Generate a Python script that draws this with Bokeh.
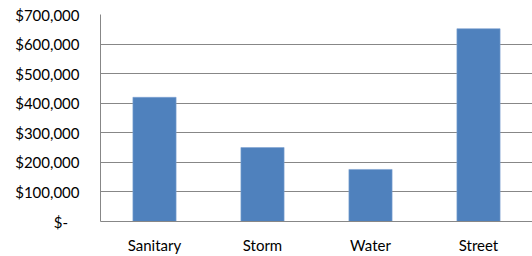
from bokeh.plotting import figure
from bokeh.models import ColumnDataSource, CustomJSTickFormatter, FixedTicker, Range1d
from bokeh.embed import file_html
from bokeh.resources import INLINE

categories = ["Sanitary", "Storm", "Water", "Street"]
values = [420000, 250000, 176000, 652000]
y_ticks = [0, 100000, 200000, 300000, 400000, 500000, 600000, 700000]

FONT = "Lato"
GRID = "#878787"

src = ColumnDataSource(dict(cat=categories, val=values))

p = figure(x_range=categories, y_range=Range1d(0, 700000),
           width=532, height=256, output_backend="svg", toolbar_location=None,
           min_border_left=100, min_border_right=0, min_border_top=14, min_border_bottom=32)

p.vbar(x="cat", top="val", width=0.4, source=src,
       fill_color="#4F81BD", line_color="#7FA3D1", line_width=0.6)

p.outline_line_color = None
p.background_fill_color = "white"
p.border_fill_color = "white"

p.xgrid.grid_line_color = None
p.ygrid.grid_line_color = GRID
p.ygrid.grid_line_width = 1
p.ygrid.ticker = FixedTicker(ticks=y_ticks)

p.yaxis.ticker = FixedTicker(ticks=y_ticks)
p.yaxis.formatter = CustomJSTickFormatter(code="""
if (tick == 0) { return "$-\u00a0\u00a0\u00a0"; }
return "$" + Math.round(tick).toLocaleString("en-US");
""")
p.yaxis.axis_line_color = GRID
p.yaxis.major_tick_line_color = None
p.yaxis.minor_tick_line_color = None
p.yaxis.major_tick_out = 0
p.yaxis.major_tick_in = 0
p.yaxis.major_label_standoff = 21
p.yaxis.major_label_text_font = FONT
p.yaxis.major_label_text_font_size = "15px"
p.yaxis.major_label_text_color = "#000000"

p.xaxis.axis_line_color = GRID
p.xaxis.major_tick_line_color = None
p.xaxis.minor_tick_line_color = None
p.xaxis.major_tick_out = 0
p.xaxis.major_tick_in = 0
p.xaxis.major_label_standoff = 14
p.xaxis.major_label_text_font = FONT
p.xaxis.major_label_text_font_size = "15px"
p.xaxis.major_label_text_color = "#000000"

open("out.html", "w").write(file_html(p, INLINE))
